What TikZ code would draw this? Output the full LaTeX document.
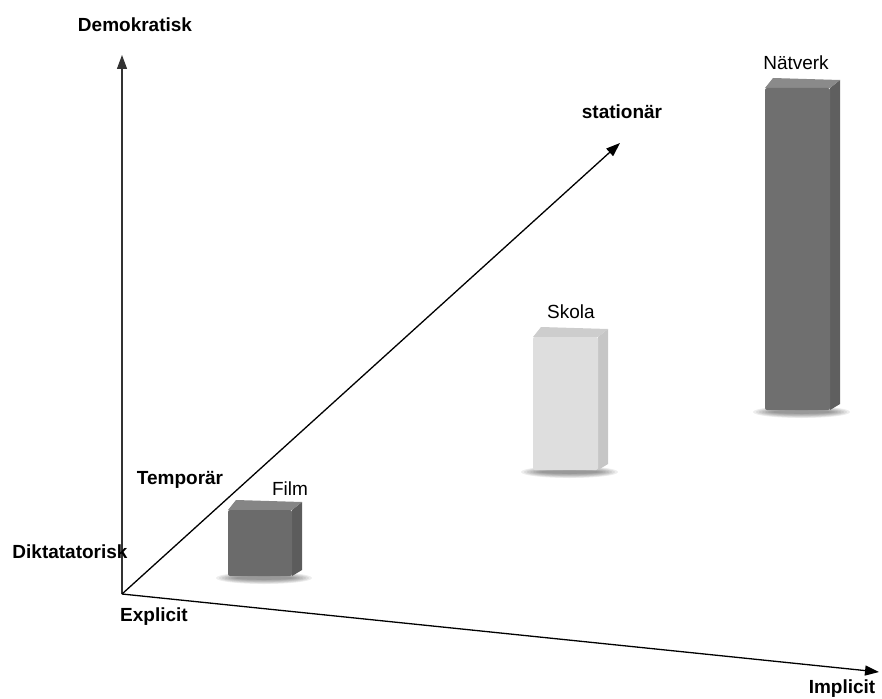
\documentclass[tikz,border=0pt]{standalone}
\usepackage{fontspec}
\setmainfont{Liberation Sans}
\usetikzlibrary{arrows.meta}
\definecolor{filmfront}{HTML}{6B6B6B}
\definecolor{filmtop}{HTML}{858585}
\definecolor{filmside}{HTML}{5C5C5C}
\definecolor{skfront}{HTML}{DEDEDE}
\definecolor{sktop}{HTML}{CDCDCD}
\definecolor{skside}{HTML}{C6C6C6}
\definecolor{nvfront}{HTML}{6F6F6F}
\definecolor{nvtop}{HTML}{8A8A8A}
\definecolor{nvside}{HTML}{5F5F5F}
\newcommand{\mybox}[7]{%
  \foreach \k in {0,...,6}{%
    \fill[black, opacity=0.07] ({(#1+#2)/2+4},{#4+2}) ellipse ({(#2-#1)/2+16-3*\k} and {6-0.7*\k});
  }
  \fill[#7] (#2,#3) -- ({#2+10},{#3-8}) -- ({#2+10},{#4-6}) -- (#2,#4) -- cycle;
  \fill[#6] (#1,#3) -- ({#1+8},{#3-10}) -- ({#2+10},{#3-8}) -- (#2,#3) -- cycle;
  \fill[#5, rounded corners=2pt] (#1,#3) rectangle (#2,#4);
}
\tikzset{
  axis/.style={line width=1.3pt, -{Triangle[length=14pt,width=10pt]}},
  axlabel/.style={font=\fontsize{19}{21}\selectfont\bfseries, inner sep=0pt},
  barlabel/.style={font=\fontsize{19}{21}\selectfont, inner sep=0pt}
}
\begin{document}
\begin{tikzpicture}[x=1pt,y=-1pt]
\useasboundingbox (0,0) rectangle (882,698);
% bars
\mybox{228}{292}{510}{576}{filmfront}{filmtop}{filmside}
\mybox{533}{598}{337}{470}{skfront}{sktop}{skside}
\mybox{765}{830}{88}{410}{nvfront}{nvtop}{nvside}
% axes
\coordinate (O) at (122,594);
\coordinate (ytip) at (122,55);
\coordinate (xtip) at (879,672);
\coordinate (ztip) at (620,143);
\draw[axis, color=black!80] (O) -- (ytip);
\draw[axis] (O) -- (xtip);
\draw[axis] (O) -- (ztip);
% labels
\node[axlabel] (demo) at (135,25) {Demokratisk};
\node[axlabel] (stat) at (622,112) {stationär};
\node[axlabel] (temp) at (180,480) {Temporär};
\node[axlabel] (dikt) at (70,552) {Diktatatorisk};
\node[axlabel] (expl) at (154,617) {Explicit};
\node[axlabel] (impl) at (842,689) {Implicit};
\node[barlabel] (film) at (290,489) {Film};
\node[barlabel] (skola) at (571,312) {Skola};
\node[barlabel] (natv) at (796,63) {Nätverk};
\end{tikzpicture}
\end{document}
